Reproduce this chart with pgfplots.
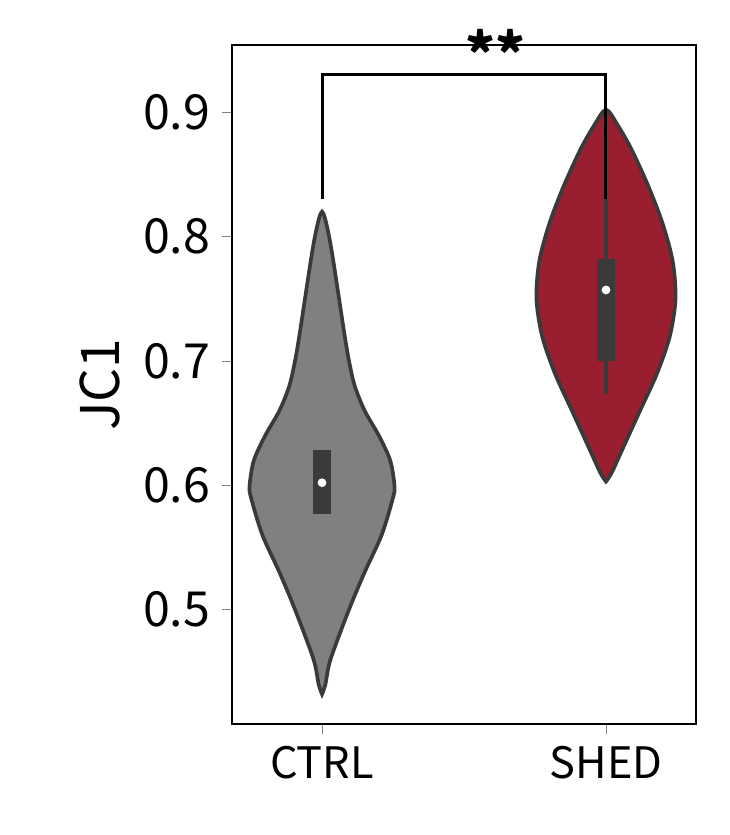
\documentclass[border=0pt]{standalone}
\usepackage{pgfplots}
\pgfplotsset{compat=1.18}
\usepackage{fontspec}
\setmainfont{Noto Sans CJK SC}
\definecolor{vgray}{HTML}{808080}
\definecolor{vred}{HTML}{991E2F}
\definecolor{vedge}{HTML}{3A3A3A}
\begin{document}
\begin{tikzpicture}
\begin{axis}[
  scale only axis, width=139.2pt, height=203.7pt,
  xmin=-0.317, xmax=1.317, ymin=0.408, ymax=0.954,
  xtick={0,1}, xticklabels={CTRL,SHED},
  ytick={0.5,0.6,0.7,0.8,0.9},
  yticklabels={0.5,0.6,0.7,0.8,0.9},
  xtick pos=bottom, ytick pos=left,
  ylabel={JC1},
  tick label style={font=\fontsize{14.5}{16}\selectfont},
  xticklabel style={font=\fontsize{13}{15}\selectfont},
  ylabel style={font=\fontsize{16}{18}\selectfont},
  tick align=outside, major tick length=3pt,
  clip=false, axis line style={line width=0.5pt},
]
\addplot[fill=vgray, draw=vedge, line width=1.1pt, smooth] coordinates {
(0,0.432)(0.012,0.44)(0.03,0.46)(0.095,0.5)(0.15,0.53)(0.21,0.56)(0.25,0.59)(0.255,0.60)(0.24,0.62)(0.2,0.64)(0.15,0.66)(0.115,0.68)(0.095,0.70)(0.08,0.72)(0.06,0.75)(0.04,0.78)(0.025,0.80)(0.01,0.815)(0,0.82)
(-0.01,0.815)(-0.025,0.80)(-0.04,0.78)(-0.06,0.75)(-0.08,0.72)(-0.095,0.70)(-0.115,0.68)(-0.15,0.66)(-0.2,0.64)(-0.24,0.62)(-0.255,0.60)(-0.25,0.59)(-0.21,0.56)(-0.15,0.53)(-0.095,0.5)(-0.03,0.46)(-0.012,0.44)(0,0.432)} -- cycle;
\addplot[fill=vred, draw=vedge, line width=1.1pt, smooth] coordinates {
(1,0.603)(1.02,0.61)(1.06,0.63)(1.12,0.66)(1.18,0.69)(1.225,0.72)(1.245,0.75)(1.235,0.78)(1.2,0.81)(1.15,0.84)(1.09,0.87)(1.04,0.89)(1,0.902)
(0.96,0.89)(0.91,0.87)(0.85,0.84)(0.8,0.81)(0.765,0.78)(0.755,0.75)(0.775,0.72)(0.82,0.69)(0.88,0.66)(0.94,0.63)(0.98,0.61)(1,0.603)} -- cycle;
\addplot[fill=vedge, draw=none] coordinates {(-0.032,0.577)(0.032,0.577)(0.032,0.628)(-0.032,0.628)} -- cycle;
\addplot[vedge, line width=1.2pt] coordinates {(1,0.673)(1,0.83)};
\addplot[fill=vedge, draw=none] coordinates {(0.968,0.70)(1.032,0.70)(1.032,0.782)(0.968,0.782)} -- cycle;
\addplot[only marks, mark=*, mark size=1.1pt, white] coordinates {(0,0.602)(1,0.757)};
\addplot[black, line width=0.9pt] coordinates {(0,0.83)(0,0.93)(1,0.93)(1,0.83)};
\node[font=\fontsize{17}{17}\selectfont\bfseries] at (axis cs:0.61,0.948) {**};
\end{axis}
\path[use as bounding box] ([shift={(-69.6pt,-33.3pt)}]current axis.south west) rectangle ([shift={(9.9pt,13.5pt)}]current axis.north east);
\end{tikzpicture}
\end{document}
